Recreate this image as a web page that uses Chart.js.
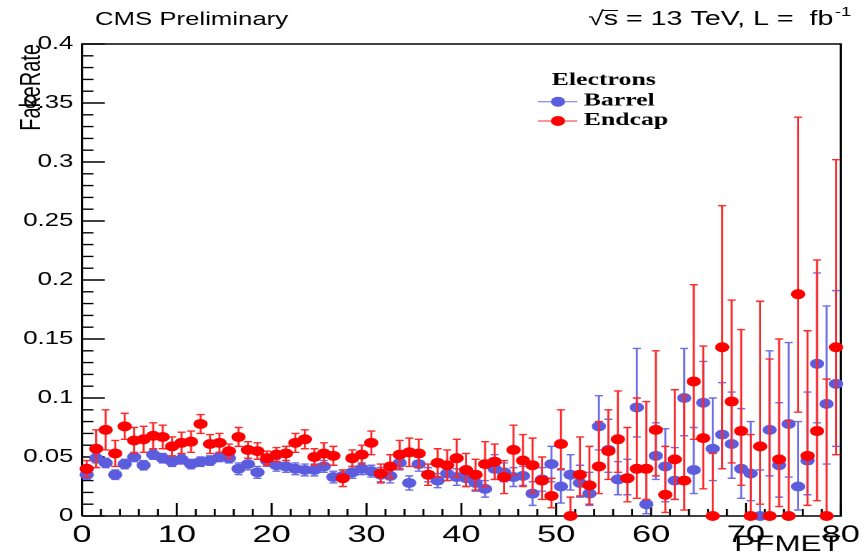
<!DOCTYPE html>
<html>
<head>
<meta charset="utf-8">
<script src="https://cdn.jsdelivr.net/npm/chart.js@4.4.1/dist/chart.umd.min.js"></script>
<style>
  html, body { margin: 0; padding: 0; background: #fff; overflow: hidden; }
  /* the original picture is stretched sideways, so the chart is drawn narrow and widened */
  #wrap { width: 606px; height: 557px; transform: scaleX(1.4307); transform-origin: 0 0; }
</style>
</head>
<body>
<div id="wrap"><canvas id="fakerate"></canvas></div>
<script>
// PFMET bin centres (1 GeV bins, 0-80)
const binCenters = [0.5,1.5,2.5,3.5,4.5,5.5,6.5,7.5,8.5,9.5,10.5,11.5,12.5,13.5,14.5,15.5,16.5,17.5,18.5,19.5,
  20.5,21.5,22.5,23.5,24.5,25.5,26.5,27.5,28.5,29.5,30.5,31.5,32.5,33.5,34.5,35.5,36.5,37.5,38.5,39.5,
  40.5,41.5,42.5,43.5,44.5,45.5,46.5,47.5,48.5,49.5,50.5,51.5,52.5,53.5,54.5,55.5,56.5,57.5,58.5,59.5,
  60.5,61.5,62.5,63.5,64.5,65.5,66.5,67.5,68.5,69.5,70.5,71.5,72.5,73.5,74.5,75.5,76.5,77.5,78.5,79.5];

const barrelRate = [0.035,0.049,0.045,0.035,0.044,0.050,0.043,0.052,0.049,0.046,0.048,0.044,0.046,0.047,0.050,0.049,0.040,0.044,0.037,0.047,
  0.043,0.042,0.040,0.039,0.039,0.042,0.033,0.034,0.037,0.040,0.038,0.035,0.034,0.045,0.028,0.044,0.035,0.030,0.036,0.033,
  0.032,0.028,0.023,0.040,0.037,0.033,0.034,0.019,0.031,0.044,0.025,0.035,0.028,0.019,0.076,0.056,0.031,0.032,0.092,0.010,
  0.051,0.042,0.030,0.100,0.039,0.096,0.057,0.069,0.061,0.040,0.036,0.000,0.073,0.043,0.078,0.025,0.047,0.129,0.095,0.112];
const barrelErrUp = [0.004,0.004,0.004,0.004,0.004,0.004,0.004,0.004,0.004,0.004,0.004,0.004,0.004,0.004,0.004,0.004,0.005,0.005,0.005,0.005,
  0.005,0.005,0.005,0.005,0.005,0.005,0.005,0.005,0.005,0.005,0.005,0.006,0.006,0.006,0.006,0.006,0.006,0.006,0.006,0.007,
  0.007,0.007,0.007,0.012,0.008,0.008,0.008,0.010,0.010,0.015,0.014,0.017,0.015,0.018,0.026,0.026,0.015,0.016,0.050,0.032,
  0.028,0.032,0.028,0.042,0.036,0.035,0.043,0.044,0.044,0.051,0.044,0.039,0.067,0.053,0.069,0.055,0.058,0.077,0.083,0.079];
const barrelErrDown = [0.004,0.004,0.004,0.004,0.004,0.004,0.004,0.004,0.004,0.004,0.004,0.004,0.004,0.004,0.004,0.004,0.005,0.005,0.005,0.005,
  0.005,0.005,0.005,0.005,0.005,0.005,0.005,0.005,0.005,0.005,0.005,0.006,0.006,0.006,0.006,0.006,0.006,0.006,0.006,0.007,
  0.007,0.007,0.007,0.009,0.008,0.008,0.008,0.010,0.010,0.015,0.014,0.013,0.012,0.010,0.020,0.019,0.013,0.014,0.025,0.008,
  0.020,0.030,0.016,0.032,0.020,0.030,0.027,0.029,0.029,0.025,0.023,0.000,0.039,0.027,0.045,0.020,0.029,0.050,0.051,0.053];

const endcapRate = [0.040,0.057,0.073,0.053,0.076,0.064,0.065,0.068,0.067,0.059,0.062,0.063,0.078,0.061,0.062,0.055,0.067,0.056,0.055,0.049,
  0.052,0.053,0.062,0.065,0.050,0.053,0.051,0.032,0.049,0.052,0.062,0.036,0.042,0.052,0.054,0.053,0.035,0.045,0.043,0.049,
  0.039,0.035,0.044,0.046,0.033,0.056,0.047,0.043,0.030,0.017,0.061,0.000,0.035,0.026,0.042,0.055,0.065,0.032,0.040,0.040,
  0.073,0.018,0.048,0.030,0.114,0.066,0.000,0.143,0.097,0.072,0.000,0.059,0.000,0.048,0.000,0.188,0.051,0.072,0.000,0.143];
const endcapErrUp = [0.007,0.016,0.017,0.011,0.011,0.011,0.011,0.011,0.010,0.008,0.009,0.009,0.008,0.008,0.008,0.006,0.008,0.007,0.007,0.006,
  0.006,0.006,0.008,0.008,0.007,0.009,0.008,0.007,0.007,0.008,0.010,0.008,0.010,0.012,0.012,0.012,0.009,0.012,0.013,0.016,
  0.014,0.013,0.019,0.015,0.014,0.021,0.022,0.023,0.020,0.015,0.029,0.016,0.032,0.033,0.038,0.035,0.041,0.043,0.060,0.057,
  0.067,0.041,0.059,0.072,0.082,0.078,0.053,0.120,0.086,0.086,0.069,0.123,0.133,0.102,0.081,0.150,0.106,0.145,0.116,0.159];
const endcapErrDown = [0.007,0.016,0.017,0.011,0.011,0.011,0.011,0.011,0.010,0.008,0.009,0.009,0.008,0.008,0.008,0.006,0.008,0.007,0.007,0.006,
  0.006,0.006,0.008,0.008,0.007,0.009,0.008,0.007,0.007,0.008,0.010,0.008,0.010,0.012,0.012,0.012,0.009,0.012,0.013,0.016,
  0.014,0.013,0.019,0.015,0.014,0.021,0.022,0.023,0.016,0.010,0.021,0.000,0.018,0.016,0.023,0.024,0.028,0.020,0.025,0.026,
  0.039,0.015,0.034,0.025,0.049,0.043,0.000,0.103,0.052,0.046,0.000,0.049,0.000,0.040,0.000,0.100,0.042,0.059,0.000,0.091];

// axis ranges (the frame box follows them)
const xRange = [0, 80];
const yRange = [0, 0.4];

const blue = 'rgb(92, 92, 222)';
const blueErr = 'rgb(110, 110, 230)';
const red = 'rgb(255, 0, 0)';
const redErr = 'rgb(255, 40, 40)';
const SANS = '"Liberation Sans", Arial, sans-serif';
const SERIF = '"Liberation Serif", "Times New Roman", serif';

Chart.defaults.font.family = SANS;
Chart.defaults.color = '#000';

// error bars drawn just before each dataset's markers (ROOT style draws bars then markers per graph)
const errorBars = {
  id: 'errorBars',
  beforeDatasetDraw(chart, args) {
    const ds = chart.data.datasets[args.index];
    if (!ds.errUp) return;
    const ys = chart.scales.y;
    const ctx = chart.ctx;
    ctx.save();
    ctx.strokeStyle = ds.errColor;
    ctx.lineWidth = 1.4;
    args.meta.data.forEach((pt, i) => {
      const v = ds.data[i].y;
      const top = ys.getPixelForValue(v + ds.errUp[i]);
      const bot = ys.getPixelForValue(v - ds.errDown[i]);
      ctx.beginPath();
      ctx.moveTo(pt.x, top); ctx.lineTo(pt.x, bot);
      ctx.moveTo(pt.x - 2.8, top); ctx.lineTo(pt.x + 2.8, top);
      if (ds.errDown[i] > 0) { ctx.moveTo(pt.x - 2.8, bot); ctx.lineTo(pt.x + 2.8, bot); }
      ctx.stroke();
    });
    ctx.restore();
  }
};

// inside ticks drawn with the frame dataset, texts after everything
const rootAxes = {
  id: 'rootAxes',
  afterDatasetDraw(chart, args) {
    const ds = chart.data.datasets[args.index];
    if (!ds.isFrame) return;
    const ctx = chart.ctx;
    const a = chart.chartArea;
    const xs = chart.scales.x;
    const ys = chart.scales.y;
    ctx.save();
    ctx.strokeStyle = '#000';
    ctx.lineWidth = 1.4;
    ctx.beginPath();
    for (let k = 0; k <= 40; k++) {
      const py = ys.getPixelForValue(k / 100);
      ctx.moveTo(a.left, py); ctx.lineTo(a.left + (k % 5 === 0 ? 16 : 8), py);
      const px = xs.getPixelForValue(k * 2);
      ctx.moveTo(px, a.bottom); ctx.lineTo(px, a.bottom - (k % 5 === 0 ? 13 : 7));
    }
    ctx.stroke();
    ctx.restore();
  },
  afterDraw(chart) {
    const ctx = chart.ctx;
    const a = chart.chartArea;
    ctx.save();
    ctx.fillStyle = '#000';
    ctx.strokeStyle = '#000';
    ctx.textBaseline = 'alphabetic';

    // header
    ctx.font = '18px ' + SANS;
    ctx.textAlign = 'left';
    ctx.fillText('CMS Preliminary', 66.4, 25);
    ctx.font = '20px ' + SANS;
    let xx = 411;
    ctx.fillText('\u221A', xx, 25); xx += ctx.measureText('\u221A').width;
    const sw = ctx.measureText('s').width;
    ctx.fillText('s', xx, 25);
    ctx.lineWidth = 1;
    ctx.beginPath(); ctx.moveTo(xx - 1, 10.5); ctx.lineTo(xx + sw, 10.5); ctx.stroke();
    xx += sw;
    const rest = ' = 13 TeV, L =  fb';
    ctx.fillText(rest, xx, 25); xx += ctx.measureText(rest).width;
    ctx.font = '13px ' + SANS;
    ctx.fillText('-1', xx + 1, 16);

    // axis titles
    ctx.font = '20px ' + SANS;
    ctx.save();
    ctx.translate(28, a.top);
    ctx.rotate(-Math.PI / 2);
    ctx.textAlign = 'right';
    ctx.fillText('FakeRate', 0, 0);
    ctx.restore();
    ctx.font = '22px ' + SANS;
    ctx.textAlign = 'right';
    ctx.fillText('PFMET', a.right, 551);

    // legend
    ctx.font = 'bold 18px ' + SERIF;
    ctx.textAlign = 'center';
    ctx.fillText('Electrons', 422, 85);
    const entries = [['Barrel', blue, blueErr, 101.7], ['Endcap', red, redErr, 121]];
    entries.forEach(([label, col, lcol, ly]) => {
      ctx.strokeStyle = lcol;
      ctx.lineWidth = 1;
      ctx.beginPath(); ctx.moveTo(376, ly); ctx.lineTo(403.5, ly); ctx.stroke();
      ctx.fillStyle = col;
      ctx.beginPath(); ctx.arc(390, ly, 5, 0, Math.PI * 2); ctx.fill();
      ctx.fillStyle = '#000';
      ctx.textAlign = 'left';
      ctx.fillText(label, 408, ly + 4);
    });
    ctx.restore();
  }
};

new Chart(document.getElementById('fakerate'), {
  type: 'scatter',
  data: {
    datasets: [
      {
        label: 'Endcap',
        data: binCenters.map((x, i) => ({ x, y: endcapRate[i] })),
        errUp: endcapErrUp, errDown: endcapErrDown, errColor: redErr,
        backgroundColor: red, borderWidth: 0, pointRadius: 5, pointHoverRadius: 5,
        clip: false, order: 0
      },
      {
        label: 'Barrel',
        data: binCenters.map((x, i) => ({ x, y: barrelRate[i] })),
        errUp: barrelErrUp, errDown: barrelErrDown, errColor: blueErr,
        backgroundColor: blue, borderWidth: 0, pointRadius: 5, pointHoverRadius: 5,
        clip: false, order: 1
      },
      {
        // the ROOT frame box, drawn by the library along the axis limits
        label: 'frame',
        isFrame: true,
        type: 'line',
        data: [
          { x: xRange[0], y: yRange[0] }, { x: xRange[1], y: yRange[0] },
          { x: xRange[1], y: yRange[1] }, { x: xRange[0], y: yRange[1] },
          { x: xRange[0], y: yRange[0] }
        ],
        showLine: true, fill: false, tension: 0,
        borderColor: '#000', borderWidth: 1.6, pointRadius: 0, pointHoverRadius: 0,
        clip: false, order: 2
      }
    ]
  },
  options: {
    responsive: true,
    maintainAspectRatio: false,
    devicePixelRatio: 2,
    animation: false,
    layout: { padding: { left: 0, right: 12.3, top: 44, bottom: 0 } },
    plugins: { legend: { display: false }, tooltip: { enabled: false } },
    scales: {
      x: {
        type: 'linear', min: xRange[0], max: xRange[1],
        grid: { display: false, drawTicks: false },
        border: { display: false },
        ticks: { stepSize: 10, font: { size: 24 }, padding: 5, maxRotation: 0, autoSkip: false },
        afterFit: s => { s.height = 41; }
      },
      y: {
        min: yRange[0], max: yRange[1],
        grid: { display: false, drawTicks: false },
        border: { display: false },
        ticks: { stepSize: 0.05, font: { size: 18 }, padding: 6, callback: v => Number(v.toFixed(2)) },
        afterFit: s => { s.width = 57.3; }
      }
    }
  },
  plugins: [rootAxes, errorBars]
});
</script>
</body>
</html>
